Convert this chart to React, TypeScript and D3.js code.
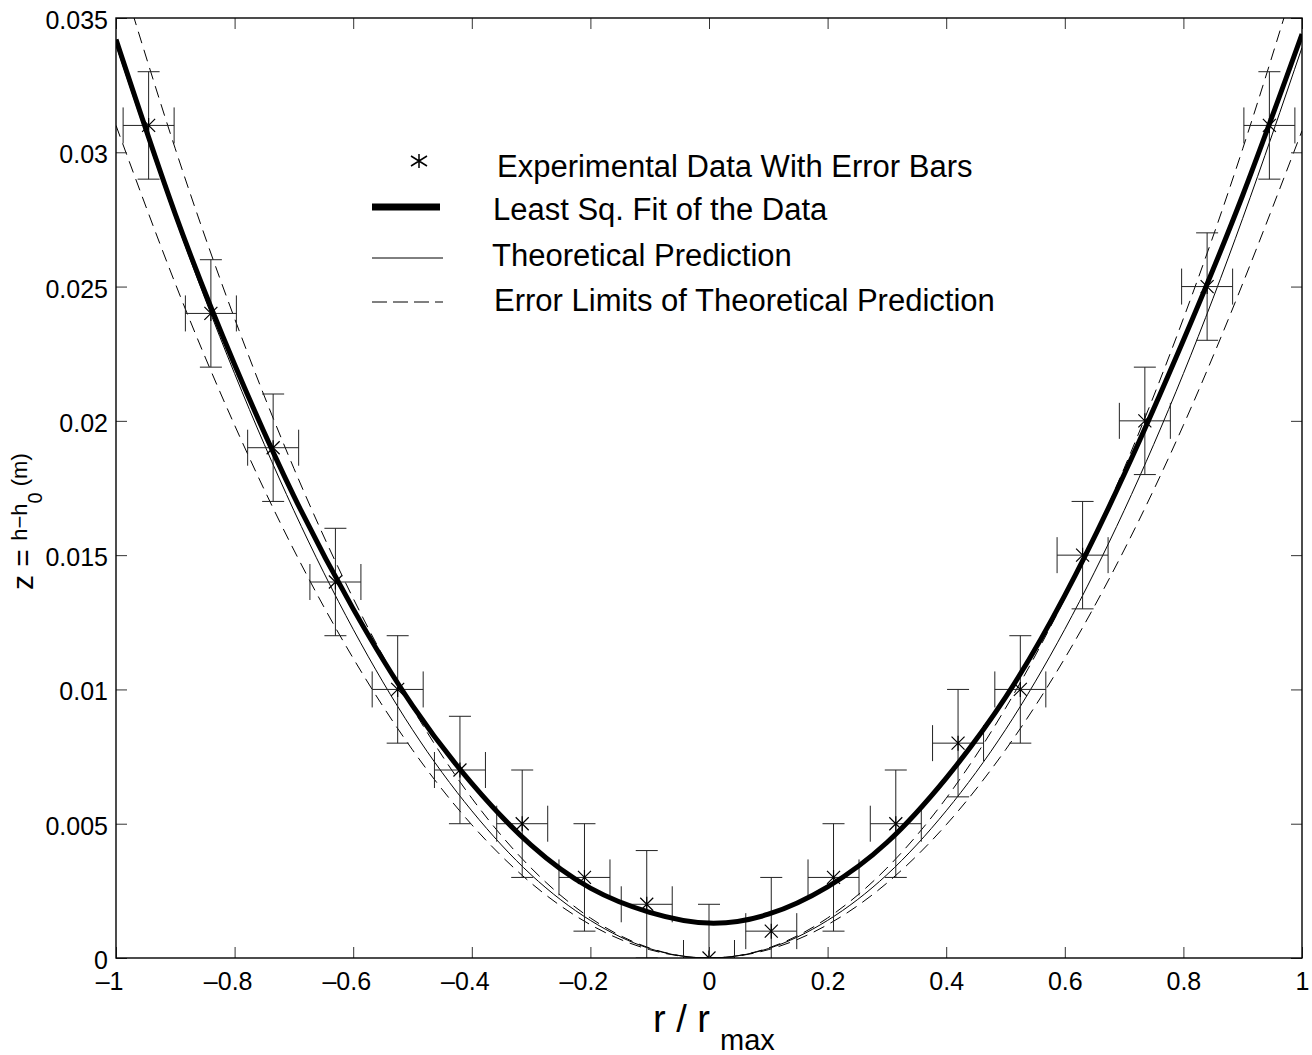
import React, { useEffect, useRef } from "react";
import * as d3 from "d3";

// measured points: r / r_max and z = h - h0 (m)
const rData = [-0.945, -0.84, -0.735, -0.63, -0.525, -0.42, -0.315, -0.21, -0.105, 0,
  0.105, 0.21, 0.315, 0.42, 0.525, 0.63, 0.735, 0.84, 0.945];
const zData = [0.031, 0.024, 0.019, 0.014, 0.010, 0.007, 0.005, 0.003, 0.002, 0,
  0.001, 0.003, 0.005, 0.008, 0.010, 0.015, 0.020, 0.025, 0.031];
const rErr = 0.043;
const zErr = 0.002;

// curves at r = -1 .. 1
const rGrid = [-1, -0.9, -0.8, -0.7, -0.6, -0.5, -0.4, -0.3, -0.2, -0.1, 0,
  0.1, 0.2, 0.3, 0.4, 0.5, 0.6, 0.7, 0.8, 0.9, 1];
const fitZ = [0.0342, 0.0277, 0.0221, 0.0172, 0.0130, 0.0094, 0.0065, 0.0042, 0.0026, 0.0017, 0.0013,
  0.00163, 0.00265, 0.0043, 0.0067, 0.0097, 0.0135, 0.0180, 0.0230, 0.0284, 0.0344];
const theoryZ = [0.0340, 0.02754, 0.02176, 0.01666, 0.01224, 0.0085, 0.00548, 0.0031, 0.0014, 0.00035, 0,
  0.00035, 0.0014, 0.0031, 0.00548, 0.0085, 0.01224, 0.01666, 0.02176, 0.02754, 0.0339];
const upperZ = [0.0372, 0.03013, 0.02381, 0.01823, 0.01339, 0.0093, 0.00595, 0.00335, 0.00149, 0.00037, 0,
  0.00037, 0.00149, 0.00335, 0.00595, 0.0093, 0.01339, 0.01823, 0.02381, 0.03013, 0.0372];
const lowerZ = [0.031, 0.02511, 0.01984, 0.01519, 0.01116, 0.00775, 0.00496, 0.00279, 0.00124, 0.00031, 0,
  0.00031, 0.00124, 0.00279, 0.00496, 0.00775, 0.01116, 0.01519, 0.01984, 0.02511, 0.0308];

const xTicks = [-1, -0.8, -0.6, -0.4, -0.2, 0, 0.2, 0.4, 0.6, 0.8, 1];
const yTicks = [0, 0.005, 0.01, 0.015, 0.02, 0.025, 0.03, 0.035];

const legendLabels = [
  "Experimental Data With Error Bars",
  "Least Sq. Fit of the Data",
  "Theoretical Prediction",
  "Error Limits of Theoretical Prediction",
];

const FONT = "'Liberation Sans', Arial, Helvetica, sans-serif";

const App = () => {
  const ref = useRef<SVGSVGElement>(null);

  const margin = { top: 18, right: 10, bottom: 97, left: 116 };
  const width = 1312 - margin.left - margin.right;
  const height = 1055 - margin.top - margin.bottom;

  useEffect(() => {
    const root = d3.select(ref.current);
    root.selectAll("*").remove();

    const svg = root.append("g")
      .attr("transform", "translate(" + margin.left + "," + margin.top + ")");

    const x = d3.scaleLinear().domain([-1, 1]).range([0, width]);
    const y = d3.scaleLinear().domain([0, 0.035]).range([height, 0]);

    root.append("defs").append("clipPath").attr("id", "plotClip")
      .append("rect").attr("width", width).attr("height", height);

    const plot = svg.append("g").attr("clip-path", "url(#plotClip)");

    const line = d3.line<[number, number]>()
      .x(d => x(d[0]))
      .y(d => y(d[1]))
      .curve(d3.curveNatural);
    const pts = (zs: number[]) => rGrid.map((r, i) => [r, zs[i]] as [number, number]);

    // error limits
    plot.append("path").datum(pts(upperZ)).attr("d", line)
      .attr("fill", "none").attr("stroke", "#000").attr("stroke-width", 1)
      .attr("stroke-dasharray", "12,7");
    plot.append("path").datum(pts(lowerZ)).attr("d", line)
      .attr("fill", "none").attr("stroke", "#000").attr("stroke-width", 1)
      .attr("stroke-dasharray", "12,7");
    // theory
    plot.append("path").datum(pts(theoryZ)).attr("d", line)
      .attr("fill", "none").attr("stroke", "#000").attr("stroke-width", 1);

    // error bars
    const eb = plot.append("g").attr("stroke", "#222").attr("stroke-width", 1).attr("fill", "none");
    rData.forEach((r, i) => {
      const cx = x(r), cy = y(zData[i]);
      const y0 = y(zData[i] - zErr), y1 = y(zData[i] + zErr);
      const x0 = x(r - rErr), x1 = x(r + rErr);
      eb.append("line").attr("x1", cx).attr("x2", cx).attr("y1", y0).attr("y2", y1);
      eb.append("line").attr("x1", cx - 11).attr("x2", cx + 11).attr("y1", y0).attr("y2", y0);
      eb.append("line").attr("x1", cx - 11).attr("x2", cx + 11).attr("y1", y1).attr("y2", y1);
      eb.append("line").attr("x1", x0).attr("x2", x1).attr("y1", cy).attr("y2", cy);
      eb.append("line").attr("x1", x0).attr("x2", x0).attr("y1", cy - 18).attr("y2", cy + 18);
      eb.append("line").attr("x1", x1).attr("x2", x1).attr("y1", cy - 18).attr("y2", cy + 18);
    });

    // least squares fit
    plot.append("path").datum(pts(fitZ)).attr("d", line)
      .attr("fill", "none").attr("stroke", "#000").attr("stroke-width", 5)
      .attr("stroke-linejoin", "round");

    // star markers
    const star = (s: number) => `M${-s},${-s}L${s},${s}M${-s},${s}L${s},${-s}M0,${-s - 1}L0,${s + 1}`;
    plot.append("g").selectAll("path").data(rData).enter().append("path")
      .attr("transform", (d, i) => "translate(" + x(d) + "," + y(zData[i]) + ")")
      .attr("d", star(6.5))
      .attr("stroke", "#000").attr("stroke-width", 1.2).attr("fill", "none");

    // axes: ticks inward on all four sides
    const tk = 11;
    const bottom = svg.append("g").attr("transform", "translate(0," + height + ")")
      .call(d3.axisBottom(x).tickValues(xTicks).tickSize(-tk).tickPadding(0)
        .tickFormat(d => String(Math.abs(+d))));
    svg.append("g").call(d3.axisTop(x).tickValues(xTicks).tickSize(-tk).tickFormat(() => ""));
    const left = svg.append("g")
      .call(d3.axisLeft(y).tickValues(yTicks).tickSize(-tk).tickPadding(8)
        .tickFormat(d => String(+(+d).toFixed(3))));
    svg.append("g").attr("transform", "translate(" + width + ",0)")
      .call(d3.axisRight(y).tickValues(yTicks).tickSize(-tk).tickFormat(() => ""));

    svg.selectAll(".domain").remove();
    svg.selectAll(".tick line").attr("stroke", "#333").attr("stroke-width", 1);
    svg.selectAll(".tick text").attr("fill", "#000").attr("font-family", FONT).attr("font-size", 25);
    left.selectAll(".tick text").attr("dy", "0.42em");
    bottom.selectAll(".tick text").attr("y", 32).attr("dy", 0);

    // minus signs hang to the left of the centred number
    bottom.selectAll<SVGTextElement, number>(".tick text").each(function (d) {
      if (d < 0) {
        const bb = this.getBBox();
        d3.select(this.parentNode as SVGGElement).append("text")
          .attr("x", bb.x).attr("y", 32)
          .attr("text-anchor", "end")
          .attr("font-family", FONT).attr("font-size", 25).attr("fill", "#000")
          .text("\u2013");
      }
    });

    // frame
    svg.append("rect").attr("width", width).attr("height", height)
      .attr("fill", "none").attr("stroke", "#000").attr("stroke-width", 1.4);

    // legend
    const lg = root.append("g").attr("font-family", FONT).attr("font-size", 31).attr("fill", "#000");
    lg.append("path").attr("transform", "translate(419,161)")
      .attr("d", "M-8,-5L8,5M-8,5L8,-5M0,-7L0,7")
      .attr("stroke", "#000").attr("stroke-width", 1.5).attr("fill", "none");
    lg.append("line").attr("x1", 372).attr("x2", 440).attr("y1", 207).attr("y2", 207)
      .attr("stroke", "#000").attr("stroke-width", 7);
    lg.append("line").attr("x1", 372).attr("x2", 443).attr("y1", 258).attr("y2", 258)
      .attr("stroke", "#000").attr("stroke-width", 1);
    lg.append("line").attr("x1", 372).attr("x2", 443).attr("y1", 302).attr("y2", 302)
      .attr("stroke", "#000").attr("stroke-width", 1).attr("stroke-dasharray", "15,6");
    const lx = [497, 493, 492, 494];
    const ly = [177, 220, 266, 311];
    legendLabels.forEach((t, i) => {
      lg.append("text").attr("x", lx[i]).attr("y", ly[i]).text(t);
    });

    // axis labels
    const xl = root.append("text").attr("x", 653).attr("y", 1032)
      .attr("font-family", FONT).attr("font-size", 38).attr("fill", "#000");
    xl.append("tspan").text("r / r");
    xl.append("tspan").attr("font-size", 29).attr("dx", 10).attr("dy", 18).text("max");

    const yl = root.append("text").attr("transform", "translate(33,590) rotate(-90)")
      .attr("font-family", FONT).attr("fill", "#000");
    yl.append("tspan").attr("font-size", 30).text("z = ");
    yl.append("tspan").attr("font-size", 22).attr("dy", -6).text("h\u2212h");
    yl.append("tspan").attr("font-size", 20).attr("dy", 15).text("0");
    yl.append("tspan").attr("font-size", 22).attr("dy", -15).text(" (m)");
  }, [margin, width, height]);

  return (
    <svg ref={ref} width={1312} height={1055}
      style={{ position: "absolute", left: 0, top: 0, background: "#fff" }} />
  );
};

export default App;
